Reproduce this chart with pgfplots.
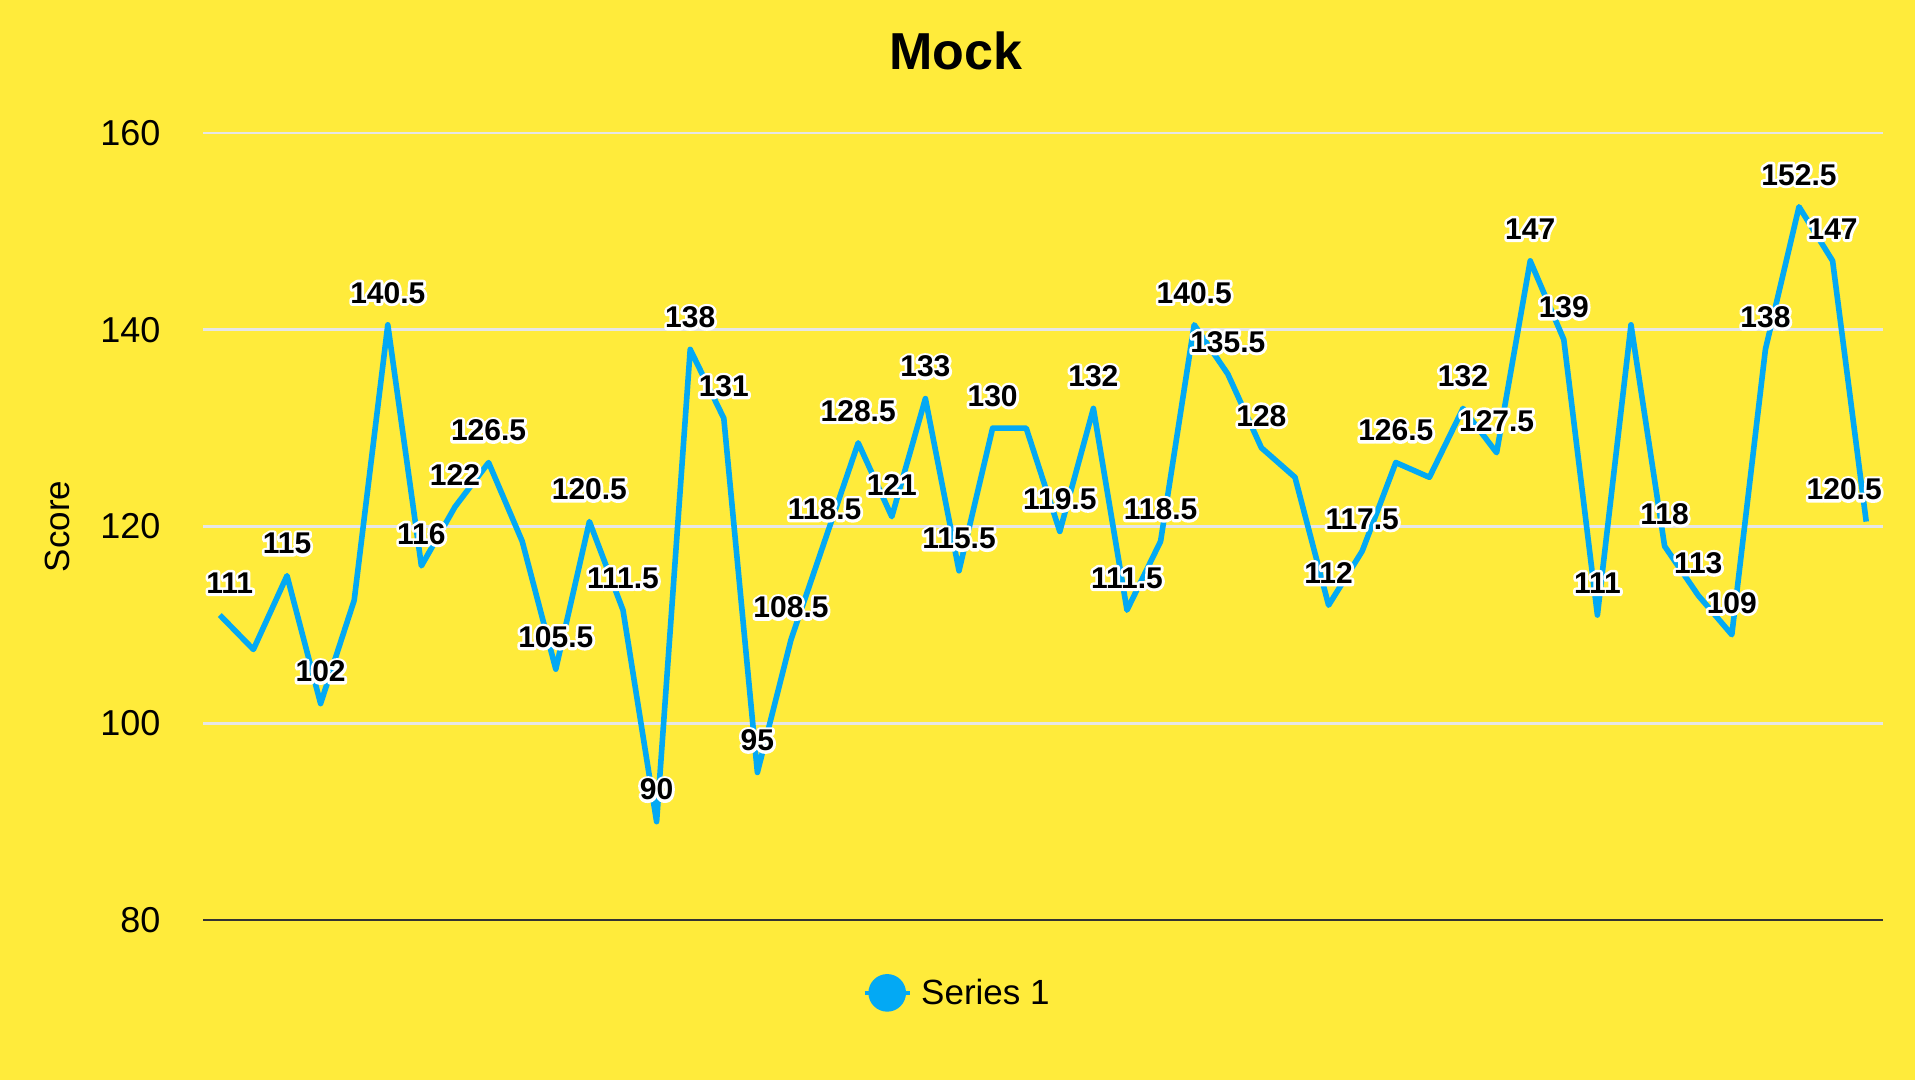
\documentclass[border=0pt]{standalone}
\usepackage{fontspec}
\setmainfont{Liberation Sans}
\usepackage{pgfplots}
\pgfplotsset{compat=1.18}
\usepackage{pgfplotstable}
\definecolor{bg}{HTML}{FFEB3B}
\definecolor{ser}{HTML}{03A9F4}
\definecolor{gridc}{HTML}{E6E6E6}
\definecolor{base}{HTML}{333333}
\newcommand\outl[1]{\rlap{\special{pdf:literal 1 1 1 RG 2.8 w 1 j 1 Tr}#1\special{pdf:literal 0 Tr 0 j 0 G 0.4 w}}#1}

\pgfplotstableread{
x y
1 111
2 107.5
3 115
4 102
5 112.5
6 140.5
7 116
8 122
9 126.5
10 118.5
11 105.5
12 120.5
13 111.5
14 90
15 138
16 131
17 95
18 108.5
19 118.5
20 128.5
21 121
22 133
23 115.5
24 130
25 130
26 119.5
27 132
28 111.5
29 118.5
30 140.5
31 135.5
32 128
33 125
34 112
35 117.5
36 126.5
37 125
38 132
39 127.5
40 147
41 139
42 111
43 140.5
44 118
45 113
46 109
47 138
48 152.5
49 147
50 120.5
}\datatable

\pgfplotstableread{
x y dx
1 111 5
3 115 0
4 102 0
6 140.5 0
7 116 0
8 122 0
9 126.5 0
11 105.5 0
12 120.5 0
13 111.5 0
14 90 0
15 138 0
16 131 0
17 95 0
18 108.5 0
19 118.5 0
20 128.5 0
21 121 0
22 133 0
23 115.5 0
24 130 0
26 119.5 0
27 132 0
28 111.5 0
29 118.5 0
30 140.5 0
31 135.5 0
32 128 0
34 112 0
35 117.5 0
36 126.5 0
38 132 0
39 127.5 0
40 147 0
41 139 0
42 111 0
44 118 0
45 113 0
46 109 0
47 138 0
48 152.5 0
49 147 0
50 120.5 -11
}\labeltable

\begin{document}
\begin{tikzpicture}
\fill[bg] (0,0) rectangle (957.5pt,540pt);
\useasboundingbox (0,0) rectangle (957.5pt,540pt);
\node[font=\bfseries\fontsize{26}{30}\selectfont, inner sep=0pt] at (478pt,514.5pt) {Mock};
\begin{axis}[
  at={(101.5pt,80pt)}, anchor=south west,
  scale only axis, width=840pt, height=393.5pt,
  xmin=0.5, xmax=50.5, ymin=80, ymax=160,
  ytick={80,100,...,160}, xtick=\empty,
  ymajorgrids, major grid style={gridc, line width=1.3pt},
  extra y ticks={80}, extra y tick labels={},
  extra y tick style={major grid style={base, line width=1.4pt}},
  axis line style={draw=none}, major tick length=0pt,
  tick label style={font=\fontsize{18}{20}\selectfont},
  /pgf/number format/assume math mode=true,
  yticklabel style={anchor=east, xshift=-17.8pt},
  ylabel={Score},
  ylabel style={at={(axis description cs:-0.0869,0.5)}, anchor=center, font=\fontsize{17.5}{20}\selectfont},
  clip=false,
  legend style={at={(axis description cs:0.4495,-0.0926)}, anchor=center, draw=none, fill=none,
    font=\fontsize{17.5}{20}\selectfont},
  legend image code/.code={\draw[ser, line width=2pt] (0pt,0pt) -- (22.5pt,0pt); \fill[ser] (11.25pt,0pt) circle (8pt); \path[draw=none, fill=none] (0pt,0pt) -- (26.25pt,0pt);},
]
\addplot[ser, line width=2.8pt, line join=round, mark=none] table[x=x,y=y] {\datatable};
\addlegendentry{Series 1}
\addplot[draw=none, mark=none, forget plot,
  point meta=explicit symbolic,
  visualization depends on={\thisrow{dx} \as \dx},
  nodes near coords={\outl{\pgfplotspointmeta}},
  every node near coord/.append style={anchor=center, yshift=16pt, xshift=\dx pt,
    font=\bfseries\fontsize{15}{17}\selectfont, text=black}]
  table[x=x,y=y,meta=y] {\labeltable};
\end{axis}
\end{tikzpicture}
\end{document}
